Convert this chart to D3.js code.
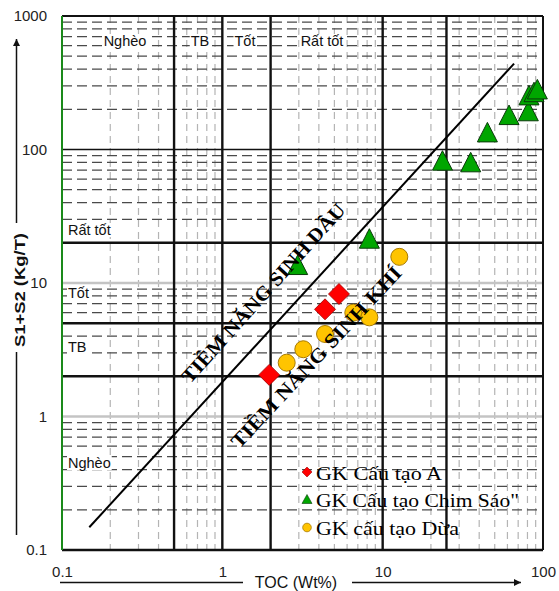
<!DOCTYPE html>
<html><head><meta charset="utf-8">
<script src="https://cdn.jsdelivr.net/npm/d3@7"></script>
<style>body{margin:0;background:#fff}svg{display:block}</style>
</head><body>
<svg id="c" width="559" height="591"></svg>
<script>
// ---- data ----
const xTicks = [0.1, 1, 10, 100];
const yTicks = [0.1, 1, 10, 100, 1000];
const tocBounds = [0.5, 1, 2, 10, 25];
const s1s2Bounds = [2, 5, 20];
const trendLine = [[0.148, 0.148], [66, 440]];

const seriesNames = ["GK Cấu tạo A", "GK Cấu tạo Chim Sáo\"", "GK cấu tạo Dừa"];
const aTOC = [1.96, 4.37, 5.34];
const aS1S2 = [2.05, 6.35, 8.27];
const chimTOC = [2.95, 8.26, 23.6, 35.4, 45.0, 61.4, 81.0, 81.8, 87.9, 92.2];
const chimS1S2 = [13.4, 21.1, 81.0, 78.8, 132, 178, 190, 250, 264, 277];
const duaTOC = [2.52, 3.20, 4.37, 6.56, 8.26, 12.7];
const duaS1S2 = [2.53, 3.19, 4.15, 5.99, 5.53, 15.7];

const tocClassLabels = ["Nghèo", "TB", "Tốt", "Rất tốt"];
const s1s2ClassLabels = ["Rất tốt", "Tốt", "TB", "Nghèo"];

// ---- layout ----
const svg = d3.select("#c");
const L = 62, R = 543, T = 16, B = 550;
const x = d3.scaleLog().domain([0.1, 100]).range([L, R]);
const y = d3.scaleLog().domain([0.1, 1000]).range([B, T]);

const defs = svg.append("defs");
const g = svg.append("g");

// minor values
const minorX = [], minorY = [];
[0.1, 1, 10].forEach(d => { for (let m = 2; m <= 9; m++) minorX.push(m * d); });
[0.1, 1, 10, 100].forEach(d => { for (let m = 2; m <= 9; m++) minorY.push(m * d); });

// minor vertical grid (light grey, dashed)
g.selectAll(".mvx").data(minorX).join("line")
  .attr("x1", d => x(d)).attr("x2", d => x(d))
  .attr("y1", T).attr("y2", B)
  .attr("stroke", "#b4b4b4").attr("stroke-width", 1.2)
  .attr("stroke-dasharray", "7,5");

// minor horizontal grid (dark dashed)
g.selectAll(".mhy").data(minorY).join("line")
  .attr("x1", L).attr("x2", R)
  .attr("y1", d => y(d)).attr("y2", d => y(d))
  .attr("stroke", "#4a4a4a").attr("stroke-width", 1.3)
  .attr("stroke-dasharray", "10,5");

// major y gridlines 1, 10 grey; 100 black
g.selectAll(".majy").data([1, 10]).join("line")
  .attr("x1", L).attr("x2", R)
  .attr("y1", d => y(d)).attr("y2", d => y(d))
  .attr("stroke", "#c4c4c4").attr("stroke-width", 2.5);
g.append("line").attr("x1", L).attr("x2", R)
  .attr("y1", y(100)).attr("y2", y(100))
  .attr("stroke", "#111").attr("stroke-width", 1.5);

// class labels (white backed)
const lblFont = "Arial, 'Liberation Sans', sans-serif";
const topLblX = [125, 200, 245, 322];
const leftLblY = [235, 298, 352, 468];
function backed(sel) {
  sel.each(function () {
    const b = this.getBBox();
    d3.select(this.parentNode).insert("rect", () => this)
      .attr("x", b.x - 1).attr("y", b.y + 1).attr("width", b.width + 2).attr("height", b.height - 2)
      .attr("fill", "#fff");
  });
}
const lblG = g.append("g");
lblG.selectAll(".tl").data(tocClassLabels).join("text")
  .attr("x", (d, i) => topLblX[i]).attr("y", 46)
  .attr("text-anchor", "middle").attr("font-family", lblFont).attr("font-size", 14.5)
  .attr("fill", "#111").text(d => d).call(backed);
lblG.selectAll(".ll").data(s1s2ClassLabels).join("text")
  .attr("x", 68).attr("y", (d, i) => leftLblY[i])
  .attr("font-family", lblFont).attr("font-size", 14.5)
  .attr("fill", "#111").text(d => d).call(backed);

// classification boundaries
g.selectAll(".bx").data(tocBounds).join("line")
  .attr("x1", d => x(d)).attr("x2", d => x(d))
  .attr("y1", T).attr("y2", B)
  .attr("stroke", "#111").attr("stroke-width", 2.4);
g.selectAll(".by").data(s1s2Bounds).join("line")
  .attr("x1", L).attr("x2", R)
  .attr("y1", d => y(d)).attr("y2", d => y(d))
  .attr("stroke", "#111").attr("stroke-width", 2.4);

// frame
g.append("line").attr("x1", L).attr("x2", R).attr("y1", T).attr("y2", T).attr("stroke", "#111").attr("stroke-width", 2);
g.append("line").attr("x1", R).attr("x2", R).attr("y1", T).attr("y2", B).attr("stroke", "#111").attr("stroke-width", 2);
g.append("line").attr("x1", L).attr("x2", R).attr("y1", B).attr("y2", B).attr("stroke", "#111").attr("stroke-width", 2.6);
g.append("line").attr("x1", L).attr("x2", L).attr("y1", T).attr("y2", B).attr("stroke", "#1a8a1a").attr("stroke-width", 2);

// trend line
g.append("line")
  .attr("x1", x(trendLine[0][0])).attr("y1", y(trendLine[0][1]))
  .attr("x2", x(trendLine[1][0])).attr("y2", y(trendLine[1][1]))
  .attr("stroke", "#000").attr("stroke-width", 2);

// markers
const marks = g.append("g");
marks.selectAll(".tri").data(chimTOC.map((v, i) => [v, chimS1S2[i]])).join("path")
  .attr("d", "M0,-11L10,8.5L-10,8.5Z")
  .attr("transform", d => `translate(${x(d[0])},${y(d[1])})`)
  .attr("fill", "#00a600").attr("stroke", "#0a3a0a").attr("stroke-width", 1);
marks.selectAll(".dia").data(aTOC.map((v, i) => [v, aS1S2[i]])).join("path")
  .attr("d", "M0,-10.5L10.5,0L0,10.5L-10.5,0Z")
  .attr("transform", d => `translate(${x(d[0])},${y(d[1])})`)
  .attr("fill", "#ff0000").attr("stroke", "#a00000").attr("stroke-width", 0.8);
marks.selectAll(".cir").data(duaTOC.map((v, i) => [v, duaS1S2[i]])).join("circle")
  .attr("cx", d => x(d[0])).attr("cy", d => y(d[1])).attr("r", 8.5)
  .attr("fill", "#ffc400").attr("stroke", "#a87a00").attr("stroke-width", 1);

// diagonal annotations
const serif = "'Liberation Serif', 'Times New Roman', serif";
g.append("text").attr("transform", "translate(263,293) rotate(-48)")
  .attr("text-anchor", "middle").attr("dominant-baseline", "central")
  .attr("font-family", serif).attr("font-size", 20).attr("font-weight", "bold")
  .attr("textLength", 234).attr("lengthAdjust", "spacingAndGlyphs")
  .text("TIỀM NĂNG SINH DẦU");
g.append("text").attr("transform", "translate(316,357) rotate(-47)")
  .attr("text-anchor", "middle").attr("dominant-baseline", "central")
  .attr("font-family", serif).attr("font-size", 20).attr("font-weight", "bold")
  .attr("textLength", 240).attr("lengthAdjust", "spacingAndGlyphs")
  .text("TIỀM NĂNG SINH KHÍ");

// legend
const legY = [472, 499.5, 527.5];
const legLen = [126, 203, 143];
const lg = g.append("g");
lg.append("path").attr("d", "M0,-5L5,0L0,5L-5,0Z").attr("transform", `translate(307,${legY[0]})`)
  .attr("fill", "#ff0000").attr("stroke", "#a00000").attr("stroke-width", 0.6);
lg.append("path").attr("d", "M0,-5L5,4L-5,4Z").attr("transform", `translate(307,${legY[1]})`)
  .attr("fill", "#00a600").attr("stroke", "#0a3a0a").attr("stroke-width", 0.6);
lg.append("circle").attr("cx", 307).attr("cy", legY[2]).attr("r", 4.3)
  .attr("fill", "#ffc400").attr("stroke", "#a87a00").attr("stroke-width", 0.8);
lg.selectAll(".lt").data(seriesNames).join("text")
  .attr("x", 316).attr("y", (d, i) => legY[i] + 7.5)
  .attr("font-family", serif).attr("font-size", 19.5)
  .attr("textLength", (d, i) => legLen[i]).attr("lengthAdjust", "spacingAndGlyphs")
  .attr("fill", "#000").text(d => d);

// axes tick labels
const fmt = d => d < 1 ? d3.format(".1f")(d) : d3.format("d")(d);
const xAxis = svg.append("g").attr("transform", `translate(0,${B})`)
  .call(d3.axisBottom(x).tickValues(xTicks).tickFormat(fmt).tickSize(0).tickPadding(16));
xAxis.select(".domain").remove();
xAxis.selectAll("text").attr("font-family", lblFont).attr("font-size", 15).attr("fill", "#222");

const yAxis = svg.append("g").attr("transform", `translate(${L},0)`)
  .call(d3.axisLeft(y).tickValues(yTicks).tickFormat(fmt).tickSize(0).tickPadding(15));
yAxis.select(".domain").remove();
yAxis.selectAll("text").attr("font-family", lblFont).attr("font-size", 15).attr("fill", "#222");

// axis titles with arrows
defs.append("marker").attr("id", "arr").attr("viewBox", "0 0 10 10")
  .attr("refX", 10).attr("refY", 5).attr("markerWidth", 10).attr("markerHeight", 7)
  .attr("markerUnits", "userSpaceOnUse").attr("orient", "auto")
  .append("path").attr("d", "M0,0L10,5L0,10Z").attr("fill", "#111");

svg.append("line").attr("x1", 60).attr("x2", 243).attr("y1", 582.5).attr("y2", 582.5)
  .attr("stroke", "#111").attr("stroke-width", 1.5);
svg.append("line").attr("x1", 352).attr("x2", 521).attr("y1", 582.5).attr("y2", 582.5)
  .attr("stroke", "#111").attr("stroke-width", 1.5).attr("marker-end", "url(#arr)");
svg.append("text").attr("x", 296).attr("y", 588).attr("text-anchor", "middle")
  .attr("font-family", lblFont).attr("font-size", 16).attr("fill", "#111").text("TOC (Wt%)");

svg.append("line").attr("x1", 16.5).attr("x2", 16.5).attr("y1", 535).attr("y2", 352)
  .attr("stroke", "#111").attr("stroke-width", 1.5);
svg.append("line").attr("x1", 16.5).attr("x2", 16.5).attr("y1", 223).attr("y2", 39)
  .attr("stroke", "#111").attr("stroke-width", 1.5).attr("marker-end", "url(#arr)");
svg.append("text").attr("transform", "translate(24.5,290) rotate(-90)").attr("text-anchor", "middle")
  .attr("font-family", lblFont).attr("font-size", 15).attr("font-weight", "bold")
  .attr("textLength", 114).attr("lengthAdjust", "spacingAndGlyphs")
  .attr("fill", "#111").text("S1+S2  (Kg/T)");
</script>
</body></html>
